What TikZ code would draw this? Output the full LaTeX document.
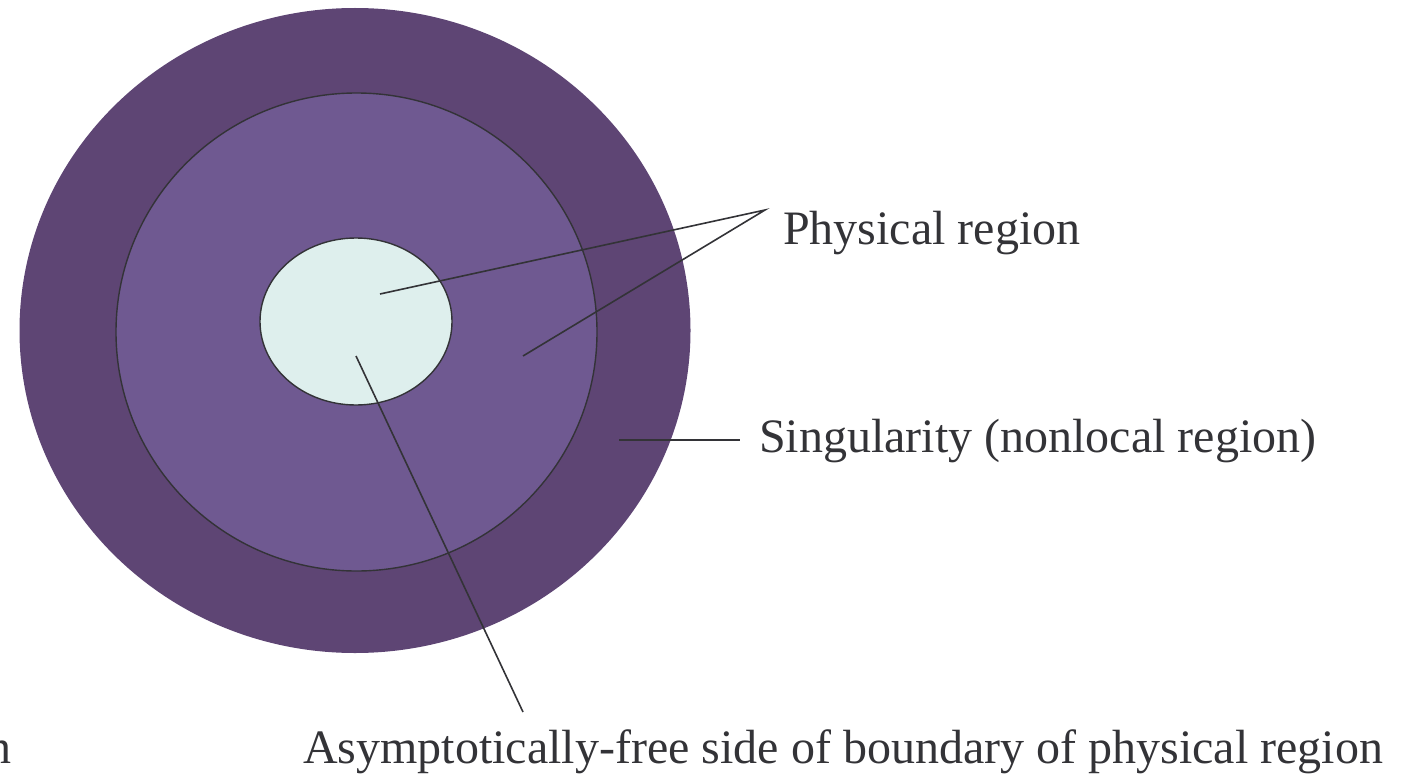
\documentclass[tikz,border=0pt]{standalone}
\usepackage{fontspec}
\setmainfont{Liberation Serif}
\definecolor{outerc}{RGB}{94,69,116}
\definecolor{midc}{RGB}{111,89,145}
\definecolor{innerc}{RGB}{222,239,237}
\definecolor{inkc}{RGB}{51,51,55}
\tikzset{
  ring/.style={draw=inkc, line width=1.4pt},
  lead/.style={draw=inkc, line width=1.6pt},
  lbl/.style={text=inkc, font=\fontsize{48}{56}\selectfont, inner sep=0pt},
}
\begin{document}
\begin{tikzpicture}[x=1pt,y=-1pt]
\useasboundingbox (0,0) rectangle (1404,781);
\fill[outerc] (355,330.5) ellipse [x radius=335.5, y radius=322.5];
\path[ring, fill=midc] (356.5,332) ellipse [x radius=240.5, y radius=239];
\path[ring, fill=innerc] (356,321.5) ellipse [x radius=96, y radius=83.5];
\coordinate (apex) at (765,210);
\coordinate (p1) at (380,294);
\coordinate (p2) at (523,356);
\coordinate (s1) at (619,440);
\coordinate (s2) at (740,440);
\coordinate (a1) at (356,356);
\coordinate (a2) at (523,712);
\node[lbl, anchor=base west] (phys) at (783,244) {Physical region};
\node[lbl, anchor=base west] (sing) at (759,452) {Singularity (nonlocal region)};
\node[lbl, anchor=base west] (asym) at (303,763) {Asymptotically-free side of boundary of physical region};
\node[lbl, anchor=base east] (cut) at (12,763) {region};
\draw[lead] (p1) -- (apex) -- (p2);
\draw[lead] (s1) -- (s2);
\draw[lead] (a1) -- (a2);
\end{tikzpicture}
\end{document}
